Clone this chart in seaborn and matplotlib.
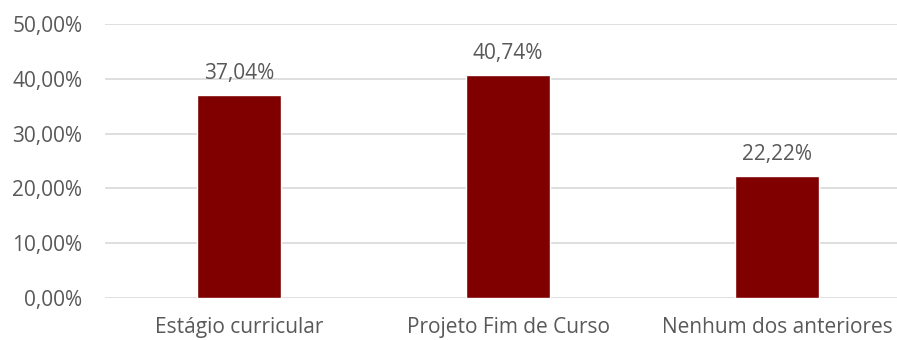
import matplotlib
matplotlib.use("Agg")
import matplotlib.pyplot as plt
import seaborn as sns
import pandas as pd
from matplotlib.ticker import FuncFormatter

categories = ["Estágio curricular", "Projeto Fim de Curso", "Nenhum dos anteriores"]
values = [37.04, 40.74, 22.22]
y_ticks = [0, 10, 20, 30, 40, 50]

def pct(v):
    return f"{v:.2f}%".replace(".", ",")

sns.set_theme(style="white")
plt.rcParams["font.family"] = ["Open Sans", "DejaVu Sans"]

text_color = "#595959"
bar_color = "#800000"

df = pd.DataFrame({"categoria": categories, "valor": values})

fig = plt.figure(figsize=(8.97, 3.4), dpi=100)
ax = fig.add_axes([0.1165, 0.1235, 0.8997, 0.806])

sns.barplot(data=df, x="categoria", y="valor", color=bar_color, width=0.312,
            saturation=1, ax=ax, zorder=3)

ax.set_ylim(0, 50)
ax.set_xlim(-0.5, 2.5)
ax.set_yticks(y_ticks)
ax.yaxis.set_major_formatter(FuncFormatter(lambda v, _: pct(v)))
ax.grid(axis="y", color="#D9D9D9", linewidth=1.2, zorder=0)
for s in ax.spines.values():
    s.set_visible(False)

ax.set_xlabel("")
ax.set_ylabel("")
ax.tick_params(axis="both", length=0, labelsize=15, colors=text_color)
ax.tick_params(axis="y", pad=16)
ax.tick_params(axis="x", pad=14)

for p, v in zip(ax.patches, values):
    ax.annotate(pct(v), (p.get_x() + p.get_width() / 2, p.get_height()),
                xytext=(0, 8), textcoords="offset points", ha="center",
                va="bottom", fontsize=15, color=text_color)

fig.savefig("out.png", dpi=100)
